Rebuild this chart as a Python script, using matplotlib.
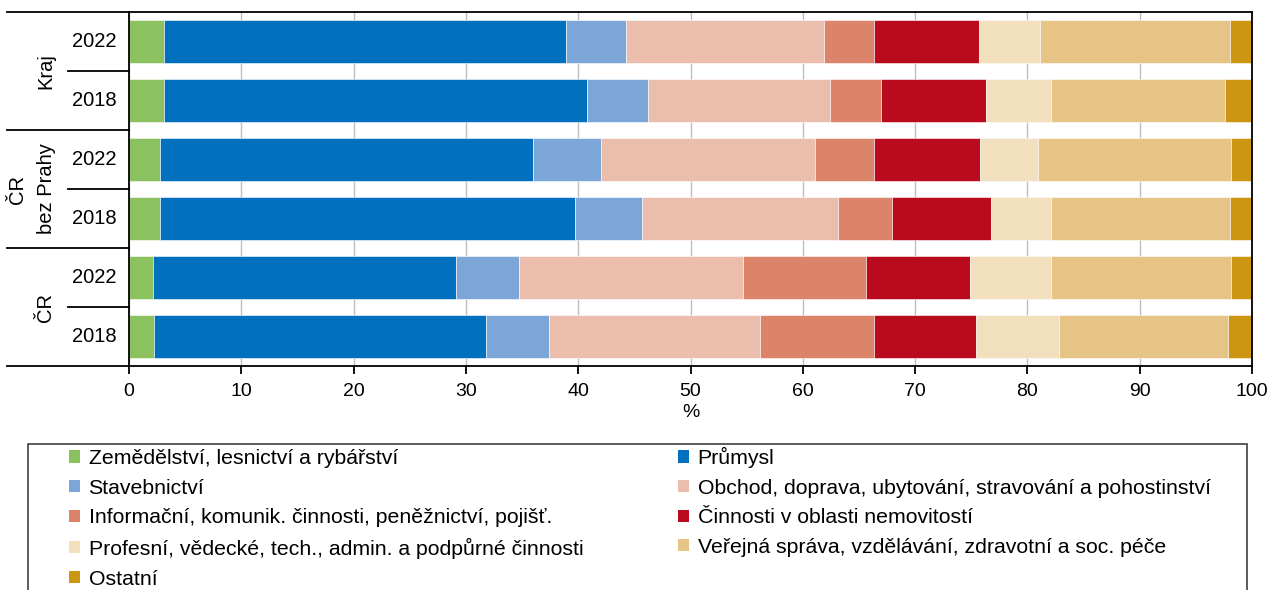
import numpy as np
import matplotlib
matplotlib.use('Agg')
import matplotlib.pyplot as plt
from matplotlib.patches import Rectangle, Patch
from matplotlib.transforms import blended_transform_factory

plt.rcParams['font.family'] = ['Liberation Sans', 'DejaVu Sans']

# rows top to bottom
groups = ['Kraj', 'ČR\nbez Prahy', 'ČR']
years = ['2022', '2018', '2022', '2018', '2022', '2018']

agri = [3.1, 3.1, 2.8, 2.8, 2.1, 2.2]
prumysl = [35.8, 37.7, 33.2, 36.9, 27.0, 29.6]
stav = [5.4, 5.4, 6.0, 6.0, 5.6, 5.6]
obchod = [17.6, 16.2, 19.1, 17.4, 20.0, 18.8]
info = [4.4, 4.6, 5.2, 4.8, 10.9, 10.1]
cinnosti = [9.4, 9.3, 9.5, 8.9, 9.3, 9.1]
prof = [5.4, 5.8, 5.1, 5.3, 7.2, 7.4]
verejna = [16.9, 15.5, 17.2, 15.9, 16.0, 15.1]
ostatni = [2.0, 2.4, 1.9, 2.0, 1.9, 2.1]

labels = ['Zemědělství, lesnictví a rybářství', 'Průmysl', 'Stavebnictví',
          'Obchod, doprava, ubytování, stravování a pohostinství',
          'Informační, komunik. činnosti, peněžnictví, pojišť.',
          'Činnosti v oblasti nemovitostí',
          'Profesní, vědecké, tech., admin. a podpůrné činnosti',
          'Veřejná správa, vzdělávání, zdravotní a soc. péče',
          'Ostatní']
colors = ['#8CC15F', '#0070BF', '#7DA6D8', '#EBBDAC', '#DC846A',
          '#BA0A1E', '#F1DFBE', '#E5C486', '#CC9512']
series = [agri, prumysl, stav, obchod, info, cinnosti, prof, verejna, ostatni]

W, H = 1271, 590
fig = plt.figure(figsize=(W / 100, H / 100), dpi=100)
ax = fig.add_axes([129 / W, 1 - 366 / H, (1252 - 129) / W, (366 - 12) / H])

y = np.arange(len(years))
left = np.zeros(len(years))
for vals, col in zip(series, colors):
    v = np.array(vals)
    ax.barh(y, v, left=left, height=0.73, color=col, edgecolor='white',
            linewidth=0.4, zorder=2)
    left += v

ax.set_xlim(0, 100)
ax.set_ylim(5.5, -0.5)
ax.set_xticks(range(0, 101, 10))
ax.tick_params(axis='x', length=6, width=1.3, direction='out', labelsize=14, pad=6)
ax.set_yticks([])
ax.set_xlabel('%', fontsize=14, labelpad=3)
ax.grid(axis='x', color='#BFBFBF', linewidth=1.0, zorder=0)
ax.set_axisbelow(True)
for s in ax.spines.values():
    s.set_linewidth(1.3)

# two-level category labels
trans = blended_transform_factory(ax.transAxes, ax.transData)
aw = 1252 - 129
gx0 = (7 - 129) / aw
yx0 = (68 - 129) / aw
for yy in [-0.5, 1.5, 3.5, 5.5]:
    ax.plot([gx0, 0], [yy, yy], color='black', lw=1.3, transform=trans, clip_on=False)
for yy in [0.5, 2.5, 4.5]:
    ax.plot([yx0, 0], [yy, yy], color='black', lw=1.3, transform=trans, clip_on=False)
for yi, yr in zip(y, years):
    ax.text((94 - 129) / aw, yi, yr, transform=trans, ha='center', va='center',
            fontsize=14.5)
gpos = [0.5, 2.5, 4.5]
gx = [(46 - 129) / aw, (32 - 129) / aw, (46 - 129) / aw]
for g, gy, gxx in zip(groups, gpos, gx):
    ax.text(gxx, gy, g, transform=trans, ha='center', va='center', rotation=90,
            fontsize=14.5, linespacing=1.6, multialignment='center')

# legend (two columns placed individually, row-wise order)
handles = [Patch(facecolor=c, edgecolor='none') for c in colors]
col1 = [0, 2, 4, 6, 8]
col2 = [1, 3, 5, 7]
common = dict(frameon=False, fontsize=15.3, handlelength=0.5, handleheight=0.5,
              handletextpad=0.42, labelspacing=0.5, borderpad=0, borderaxespad=0,
              loc='upper left')
leg1 = fig.legend([handles[i] for i in col1], [labels[i] for i in col1],
                  bbox_to_anchor=(69 / W, 1 - 449 / H), **common)
leg2 = fig.legend([handles[i] for i in col2], [labels[i] for i in col2],
                  bbox_to_anchor=(678 / W, 1 - 447 / H), **common)

frame = Rectangle((28 / W, -0.1), (1247 - 28) / W, 0.1 + (590 - 444) / H,
                  transform=fig.transFigure, fill=False, edgecolor='#404040',
                  linewidth=1.2, clip_on=False)
fig.patches.append(frame)

fig.savefig('out.png', dpi=100)
